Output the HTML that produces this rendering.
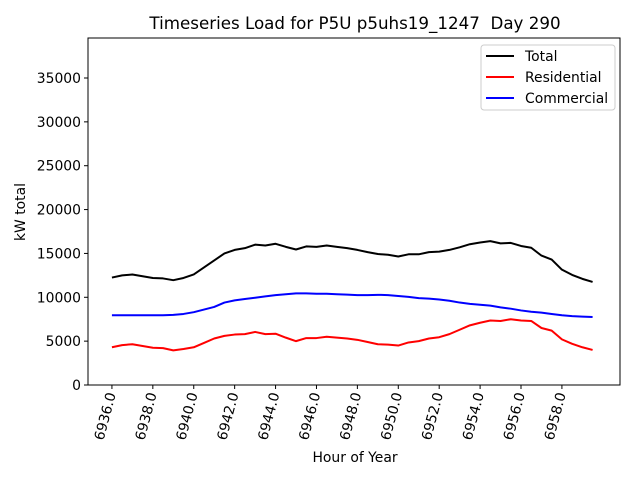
<!DOCTYPE html>
<html><head><meta charset="utf-8"><style>
body{margin:0;background:#fff}
svg{display:block;font-family:"DejaVu Sans","Liberation Sans",sans-serif}
</style></head><body>
<svg id="chart" width="640" height="480" viewBox="0 0 640 480">
<rect x="0" y="0" width="640" height="480" fill="#fff"/>
<text x="355" y="29" font-size="16.7" text-anchor="middle">Timeseries Load for P5U p5uhs19_1247&#160; Day 290</text>
<g id="plot"></g>
<g id="axes"></g>
<text x="355" y="462" font-size="13.9" text-anchor="middle">Hour of Year</text>
<text transform="translate(25,212) rotate(-90)" font-size="13.9" text-anchor="middle">kW total</text>
<g>
<rect x="481" y="45" width="134" height="65" rx="3" fill="#fff" stroke="#ccc" stroke-width="1"/>
<g><line x1="486" y1="56" x2="514" y2="56" stroke="#000" stroke-width="2"/><text x="525" y="61" font-size="13.9">Total</text></g>
<g><line x1="486" y1="77" x2="514" y2="77" stroke="#f00" stroke-width="2"/><text x="525" y="82" font-size="13.9">Residential</text></g>
<g><line x1="486" y1="98" x2="514" y2="98" stroke="#00f" stroke-width="2"/><text x="525" y="103" font-size="13.9">Commercial</text></g>
</g>
</svg>
<script>
const startHour = 6936;
const stepHours = 0.5;
const residential = [4300,4550,4650,4450,4250,4200,3950,4100,4300,4800,5300,5600,5750,5800,6050,5800,5850,5400,5000,5350,5350,5500,5400,5300,5150,4900,4650,4600,4500,4850,5000,5300,5450,5800,6300,6800,7100,7350,7300,7500,7350,7300,6500,6200,5200,4700,4300,4000];
const commercial = [7950,7950,7950,7950,7950,7950,8000,8100,8300,8600,8900,9400,9650,9800,9950,10100,10250,10350,10450,10450,10400,10400,10350,10300,10250,10250,10280,10250,10150,10050,9900,9850,9750,9600,9400,9250,9150,9050,8850,8700,8500,8350,8250,8100,7950,7850,7800,7750];
const total = [12250,12500,12600,12400,12200,12150,11950,12200,12600,13400,14200,15000,15400,15600,16000,15900,16100,15750,15450,15800,15750,15900,15750,15600,15400,15150,14930,14850,14650,14900,14900,15150,15200,15400,15700,16050,16250,16400,16150,16200,15850,15650,14750,14300,13150,12550,12100,11750];
const xTicks = [6936,6938,6940,6942,6944,6946,6948,6950,6952,6954,6956,6958];
const yTicks = [0,5000,10000,15000,20000,25000,30000,35000];

const L=88,R=620,T=38,B=385;
const xMin=6934.83,xMax=6960.84,yMin=0,yMax=39560;
const xs=v=>L+(v-xMin)/(xMax-xMin)*(R-L);
const ys=v=>B-(v-yMin)/(yMax-yMin)*(B-T);
const NS="http://www.w3.org/2000/svg";
const plot=document.getElementById('plot');
const axes=document.getElementById('axes');
function mk(tag,attrs,parent){const e=document.createElementNS(NS,tag);for(const k in attrs)e.setAttribute(k,attrs[k]);parent.appendChild(e);return e;}

function series(vals,color,name){
  const d=vals.map((v,i)=>(i?'L':'M')+xs(startHour+i*stepHours).toFixed(2)+','+ys(v).toFixed(2)).join('');
  const p=mk('path',{d:d,fill:'none',stroke:color,'stroke-width':2,'stroke-linejoin':'round'},plot);
  
  
}
series(total,'#000','total-line');
series(residential,'#f00','residential-line');
series(commercial,'#00f','commercial-line');

const frame=mk('rect',{x:L,y:T,width:R-L,height:B-T,fill:'none',stroke:'#000','stroke-width':1},axes);



xTicks.forEach(t=>{
  const x=xs(t);
  const tk=mk('line',{x1:x,y1:B,x2:x,y2:B+4,stroke:'#000','stroke-width':1},axes);
  
  
  const tx=mk('text',{transform:`translate(${x+4},${B+9}) rotate(-75)`,'font-size':13.9,'text-anchor':'end'},axes);
  tx.textContent=t.toFixed(1);
  
  
});
yTicks.forEach(t=>{
  const y=ys(t);
  const tk=mk('line',{x1:L-4,y1:y,x2:L,y2:y,stroke:'#000','stroke-width':1},axes);
  
  
  const tx=mk('text',{x:L-7,y:y+5,'font-size':13.9,'text-anchor':'end'},axes);
  tx.textContent=String(t);
  
  
});
</script>
</body></html>
